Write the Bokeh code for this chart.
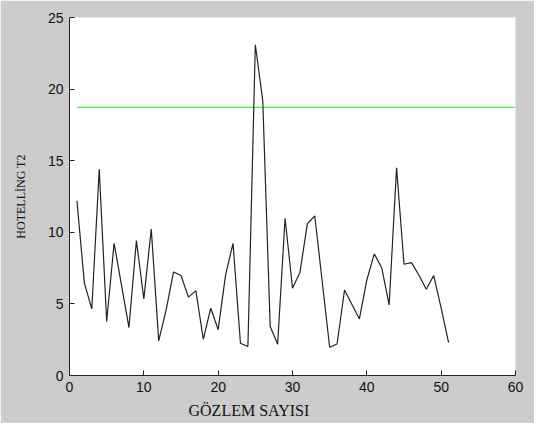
from bokeh.plotting import figure
from bokeh.models import Range1d, FixedTicker, Title
from bokeh.embed import file_html
from bokeh.resources import INLINE

obs = list(range(1, 52))
t2 = [12.2, 6.45, 4.65, 14.4, 3.77, 9.23, 6.3, 3.35, 9.42, 5.35,
      10.23, 2.42, 4.58, 7.23, 6.98, 5.47, 5.93, 2.53, 4.7, 3.2,
      7.03, 9.23, 2.25, 2.02, 23.1, 19.2, 3.42, 2.18, 10.98, 6.1,
      7.2, 10.6, 11.14, 6.55, 1.97, 2.2, 5.97, 4.96, 3.95, 6.67,
      8.49, 7.53, 4.93, 14.51, 7.77, 7.88, 7.02, 6.02, 6.98, 4.7, 2.3]
ucl_x = [1, 60]
ucl_y = [18.73, 18.73]
x_ticks = [0, 10, 20, 30, 40, 50, 60]
y_ticks = [0, 5, 10, 15, 20, 25]

GRAY = "#cccccc"
p = figure(width=534, height=423, output_backend="svg", toolbar_location=None,
           x_range=Range1d(0, 60), y_range=Range1d(0, 25),
           min_border_left=69, min_border_top=17, min_border_right=19,
           min_border_bottom=47)
p.background_fill_color = "white"
p.border_fill_color = GRAY
p.outline_line_color = "#e8e8e8"
p.grid.visible = False

p.line(ucl_x, ucl_y, line_color="#40f040", line_width=1.3)
p.line(obs, t2, line_color="#222222", line_width=1.2)

for ax in (p.xaxis[0], p.yaxis[0]):
    ax.major_tick_in = 5
    ax.major_tick_out = 0
    ax.minor_tick_line_color = None
    ax.axis_line_color = "#222222"
    ax.major_tick_line_color = "#222222"
    ax.major_label_text_font = "Liberation Sans"
    ax.major_label_text_font_size = "14px"
    ax.major_label_text_color = "#111111"
p.xaxis.ticker = FixedTicker(ticks=x_ticks)
p.yaxis.ticker = FixedTicker(ticks=y_ticks)
p.xaxis.major_label_standoff = 6
p.yaxis.major_label_standoff = 6

p.yaxis.axis_label = "HOTELLİNG T2"
p.yaxis.axis_label_text_font = "Liberation Serif"
p.yaxis.axis_label_text_font_style = "normal"
p.yaxis.axis_label_text_font_size = "12px"
p.yaxis.axis_label_text_color = "#111111"
p.yaxis.axis_label_standoff = 17

xl = Title(text="GÖZLEM SAYISI", align="left", offset=119,
           text_font="Liberation Serif", text_font_style="normal",
           text_font_size="16px", text_color="#111111", standoff=10)
p.add_layout(xl, "below")

open("out.html", "w").write(file_html(p, INLINE))
